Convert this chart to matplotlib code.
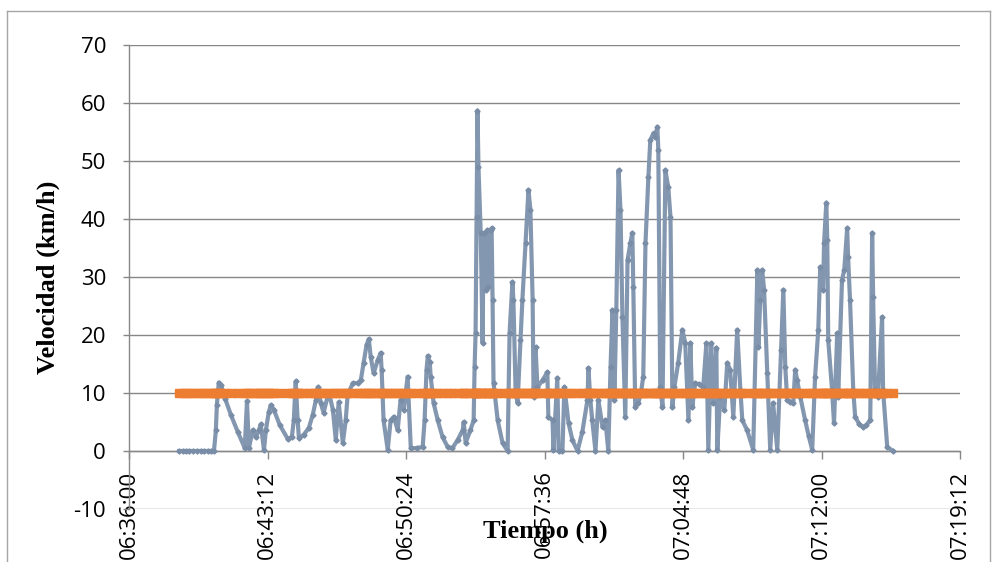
import matplotlib
matplotlib.use("Agg")
import matplotlib.pyplot as plt
import matplotlib.dates as mdates
from matplotlib.ticker import FixedLocator
from matplotlib.lines import Line2D
import numpy as np
import pandas as pd

plt.rcParams["axes.unicode_minus"] = False

# Recording start and elapsed time of each GPS sample (seconds after start)
start_time = "06:36:00"
elapsed_s = [
    156, 167, 178, 188, 199, 211, 224, 235, 246, 256, 265, 271, 274, 280, 287,
    300, 318, 340, 361, 368, 374, 386,
    396, 405, 411, 421, 427, 436, 442, 452, 470, 495, 508, 514, 520, 526, 530, 545,
    561, 573, 583, 589, 598, 607, 623, 636, 645, 654, 667, 676, 682, 698, 713,
    723, 732, 741, 748, 754, 763, 776, 785, 788, 794, 807, 816, 826, 838, 847,
    857, 869, 879, 897, 916, 922, 928, 932, 938, 941, 950, 963, 978, 994, 1009,
    1025, 1041, 1044, 1050, 1065, 1075, 1078, 1081, 1084, 1087, 1090, 1097, 1103,
    1106, 1112, 1118, 1121, 1128, 1131, 1134, 1137, 1150, 1165, 1181, 1187, 1196,
    1199, 1206, 1212, 1221, 1227, 1237, 1246, 1252, 1259, 1262, 1268, 1274, 1290,
    1305, 1308, 1321, 1324, 1336, 1340, 1352, 1358, 1371, 1383, 1399, 1414, 1430,
    1433, 1439, 1445, 1455, 1464, 1477, 1486, 1495, 1502, 1508, 1514, 1520, 1527,
    1533, 1539, 1548, 1555, 1564, 1570, 1573, 1579, 1589, 1598, 1604, 1611, 1620,
    1626, 1636, 1642, 1648, 1651, 1657, 1664, 1673, 1682, 1689, 1695, 1701, 1713,
    1726, 1735, 1745, 1751, 1757, 1766, 1778, 1791, 1801, 1807, 1816, 1822, 1832, 1835,
    1844, 1857, 1866, 1875, 1885, 1897, 1907, 1913, 1928, 1947, 1960, 1963, 1969,
    1975, 1981, 1991, 2000, 2009, 2022, 2034, 2041, 2047, 2053, 2062, 2072, 2078, 2084,
    2094, 2109, 2120, 2131, 2140, 2150, 2156, 2165, 2168, 2175, 2178, 2181, 2193, 2199,
    2209, 2212, 2224, 2231, 2240, 2243, 2249, 2259, 2265, 2278, 2290, 2300, 2312, 2318, 2321,
    2327, 2336, 2349, 2352, 2365, 2383,
]

# Measured speed (km/h)
velocidad = [
    0, 0, 0, 0, 0, 0, 0, 0, 0, 0, 0, 3.6, 7.9, 11.8, 11.4,
    9.0, 6.2, 3.2, 0.5, 8.6, 0.5, 3.6,
    2.4, 3.6, 4.6, 0.2, 3.6, 6.7, 7.9, 7.1, 4.5, 2.1, 2.4, 5.3, 12.0, 5.3, 2.2, 2.8,
    4.0, 6.2, 8.8, 11.0, 8.3, 6.6, 10.2, 7.1, 1.9, 8.4, 1.4, 5.3, 9.7, 11.7, 11.7,
    12.2, 15.2, 18.3, 19.3, 16.2, 13.4, 15.7, 16.9, 14.0, 5.3, 0.2, 5.3, 5.9, 3.6, 8.8,
    7.1, 12.8, 0.5, 0.5, 0.7, 5.3, 14.0, 16.4, 15.3, 12.8, 8.3, 5.3, 2.4, 0.7, 0.5,
    1.9, 3.6, 5.0, 1.4, 3.6, 5.3, 14.5, 20.3, 40.3, 58.7, 49.0, 37.6, 18.6,
    37.6, 27.8, 38.1, 28.3, 38.1, 38.4, 26.0, 11.7, 5.3, 1.4, 0, 20.3, 29.1,
    26.0, 10.0, 8.3, 19.1, 26.0, 35.9, 45.0, 41.6, 26.0, 9.3, 17.9, 11.0, 12.2,
    13.6, 5.9, 5.3, 0.2, 12.6, 0, 0, 11.0, 4.8, 1.9, 0, 3.3, 8.8,
    14.3, 8.8, 5.3, 0, 8.8, 4.1, 5.3, 0, 14.5, 24.3, 8.8, 24.3, 48.4,
    41.6, 23.1, 5.9, 32.9, 35.9, 37.6, 28.3, 7.6, 8.3, 10.5, 12.8, 35.9, 47.2,
    53.6, 54.8, 54.1, 55.9, 51.9, 11.0, 7.6, 48.4, 45.5, 40.3, 7.6, 11.0, 15.2,
    20.9, 18.6, 5.3, 18.6, 7.6, 11.7, 11.5, 11.0, 18.6, 0.2, 18.6, 8.3, 17.8, 0.2,
    9.3, 7.1, 15.2, 14.0, 5.9, 20.9, 10.5, 5.3, 3.6, 0.2, 31.2, 17.9, 26.0,
    31.2, 27.8, 13.4, 0.2, 8.3, 0.2, 17.4, 27.8, 14.5, 8.8, 8.5, 8.3, 14.0, 12.2,
    9.3, 5.3, 2.6, 0.2, 12.8, 20.9, 31.7, 27.8, 35.9, 42.8, 36.4, 19.1, 10.5, 4.8,
    20.3, 9.3, 29.5, 31.2, 38.4, 33.4, 26.0, 10.5, 5.9, 4.6, 4.1, 4.5, 5.3, 37.6, 26.6,
    10.5, 9.3, 23.1, 10.5, 0.7, 0,
]

# Reference speed (km/h) held constant over the whole recording
limite_kmh = 10

# Axis range and tick positions (7 min 12 s apart)
x_start = "06:36:00"
x_end = "07:19:12"
tick_step_s = 432
y_ticks = [-10, 0, 10, 20, 30, 40, 50, 60, 70]

day = "2000-01-01 "
t0 = pd.Timestamp(day + start_time)
tiempos = t0 + pd.to_timedelta(elapsed_s, unit="s")
x = mdates.date2num(tiempos.to_pydatetime())
limite = np.full(len(x), limite_kmh, dtype=float)

xmin = mdates.date2num(pd.Timestamp(day + x_start).to_pydatetime())
xmax = mdates.date2num(pd.Timestamp(day + x_end).to_pydatetime())
n_ticks = int(round((xmax - xmin) * 86400 / tick_step_s)) + 1
xticks = [xmin + k * tick_step_s / 86400 for k in range(n_ticks)]

W, H = 995, 562
fig = plt.figure(figsize=(W / 100, H / 100), dpi=100)
ax = fig.add_axes([129 / W, (H - 509) / H, (960 - 129) / W, (509 - 45) / H])

grey = "#878787"
blue = "#8497B0"
orange = "#ED7D31"

ax.plot(x, velocidad, color=blue, lw=3.0, marker="D", ms=2.6,
        mfc="#7A8DA7", mec="#7A8DA7", zorder=3, solid_joinstyle="round")
ax.plot(x, limite, color=orange, lw=3.0, marker="s", ms=5.4,
        mfc=orange, mec=orange, zorder=4)

ax.set_xlim(xmin, xmax)
ax.set_ylim(-10, 70)
ax.xaxis.set_major_locator(FixedLocator(xticks))
ax.xaxis.set_major_formatter(mdates.DateFormatter("%H:%M:%S"))
ax.yaxis.set_major_locator(FixedLocator(y_ticks))

ax.grid(axis="y", color=grey, lw=1.0)
ax.set_axisbelow(True)
for s in ("top", "right"):
    ax.spines[s].set_visible(False)
ax.spines["bottom"].set_position(("data", 0))
ax.spines["bottom"].set_color(grey)
ax.spines["left"].set_color(grey)
ax.spines["bottom"].set_linewidth(1.0)
ax.spines["left"].set_linewidth(1.0)

tick_font = "Open Sans"
ax.tick_params(axis="x", direction="out", length=6, width=1, color=grey,
               pad=8, labelsize=16, labelrotation=90)
ax.tick_params(axis="y", direction="out", length=4.5, width=1, color=grey,
               pad=12, labelsize=16)
for lab in ax.get_xticklabels() + ax.get_yticklabels():
    lab.set_fontfamily(tick_font)

label_font = dict(family="Liberation Serif", weight="bold", size=19)
fig.text(48 / W, (H - 277) / H, "Velocidad (km/h)", rotation=90,
         ha="center", va="center", **label_font)
fig.text(545 / W, (H - 531) / H, "Tiempo (h)", ha="center", va="center",
         **label_font)

# Chart-area frame
frame_col = "#A6A6A6"
x0, x1, y0 = 7 / W, 990 / W, (H - 11) / H
fig.add_artist(Line2D([x0, x1], [y0, y0], color=frame_col, lw=1.0))
fig.add_artist(Line2D([x0, x0], [y0, -0.01], color=frame_col, lw=1.0))
fig.add_artist(Line2D([x1, x1], [y0, -0.01], color=frame_col, lw=1.0))

fig.savefig("out.png", dpi=100)
